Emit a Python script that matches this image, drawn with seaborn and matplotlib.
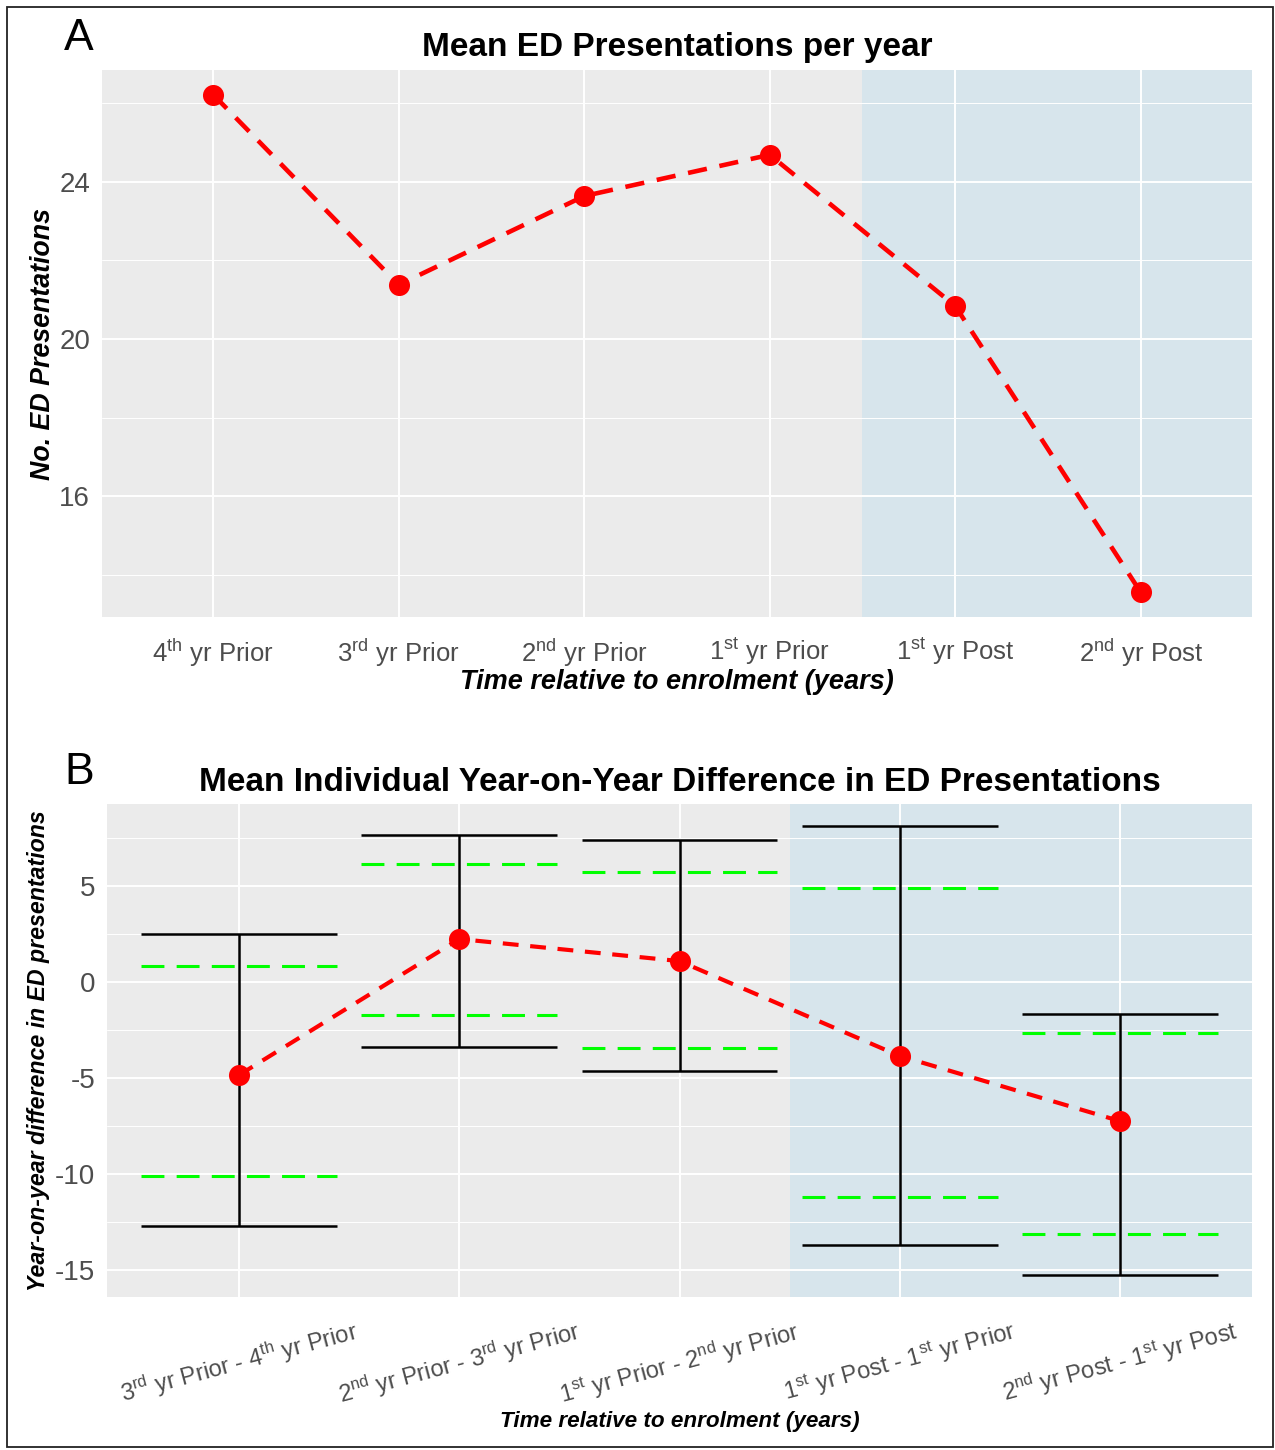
import matplotlib
matplotlib.use("Agg")
import matplotlib.pyplot as plt
import seaborn as sns
import pandas as pd
import numpy as np
from matplotlib.patches import Rectangle

# ---------------- data ----------------
a_labels = [r"4$^{\mathrm{th}}$ yr Prior", r"3$^{\mathrm{rd}}$ yr Prior", r"2$^{\mathrm{nd}}$ yr Prior",
            r"1$^{\mathrm{st}}$ yr Prior", r"1$^{\mathrm{st}}$ yr Post", r"2$^{\mathrm{nd}}$ yr Post"]
a_means = [26.22, 21.38, 23.64, 24.69, 20.84, 13.55]

b_labels = [r"3$^{\mathrm{rd}}$ yr Prior - 4$^{\mathrm{th}}$ yr Prior",
            r"2$^{\mathrm{nd}}$ yr Prior - 3$^{\mathrm{rd}}$ yr Prior",
            r"1$^{\mathrm{st}}$ yr Prior - 2$^{\mathrm{nd}}$ yr Prior",
            r"1$^{\mathrm{st}}$ yr Post - 1$^{\mathrm{st}}$ yr Prior",
            r"2$^{\mathrm{nd}}$ yr Post - 1$^{\mathrm{st}}$ yr Post"]
b_means = [-4.84, 2.24, 1.09, -3.85, -7.24]
b_ci_hi = [2.5, 7.66, 7.4, 8.13, -1.67]
b_ci_lo = [-12.7, -3.39, -4.64, -13.7, -15.26]
b_inner_hi = [0.83, 6.15, 5.73, 4.9, -2.66]
b_inner_lo = [-10.1, -1.72, -3.44, -11.2, -13.1]

# ---------------- style ----------------
sns.set_theme(style="darkgrid")
plt.rcParams['font.family'] = ['Liberation Sans', 'DejaVu Sans']
plt.rcParams['mathtext.fontset'] = 'custom'
plt.rcParams['mathtext.rm'] = 'Liberation Sans'
plt.rcParams['mathtext.it'] = 'Liberation Sans:italic'
plt.rcParams['mathtext.bf'] = 'Liberation Sans:bold'

PANEL = "#EBEBEB"
SHADE = "#D7E5EC"
RED = "#FF0000"
GREEN = "#00FF00"
TICKC = "#4D4D4D"

fig = plt.figure(figsize=(12.75, 14.5), dpi=100)
W, H = 1275, 1450

def ax_at(l, t, r, b):
    return fig.add_axes([l / W, 1 - b / H, (r - l) / W, (b - t) / H])

def style_ax(ax):
    ax.set_facecolor(PANEL)
    for s in ax.spines.values():
        s.set_visible(False)
    ax.grid(which='major', color='white', linewidth=1.4)
    ax.grid(which='minor', color='white', linewidth=0.7)
    ax.set_axisbelow(True)
    ax.tick_params(which='major', length=5, width=1.1, color="#333333", colors=TICKC)
    ax.tick_params(which='minor', length=0)

# ---------------- Panel A ----------------
axA = ax_at(102, 70, 1252, 617)
style_ax(axA)
dfA = pd.DataFrame({"pos": np.arange(len(a_means)), "mean": a_means})
axA.axvspan(3.5, 5.6, color=SHADE, zorder=0.2, lw=0)
sns.lineplot(data=dfA, x="pos", y="mean", ax=axA, color=RED, lw=3.3,
             linestyle=(0, (4.2, 2.8)), zorder=3)
sns.scatterplot(data=dfA, x="pos", y="mean", ax=axA, color=RED, s=230,
                edgecolor=RED, linewidth=0, zorder=4)
axA.set_xlim(-0.6, 5.6)
axA.set_ylim(12.92, 26.85)
axA.set_yticks([16, 20, 24])
axA.set_yticks([14, 18, 22, 26], minor=True)
axA.set_xticks(range(len(a_labels)))
axA.set_xticklabels(a_labels, fontsize=18.5, color=TICKC)
axA.tick_params(axis='y', labelsize=20)
axA.tick_params(axis='x', pad=9)
axA.set_title("Mean ED Presentations per year", fontsize=24, fontweight='bold', pad=10,
              color='black')
axA.set_xlabel("Time relative to enrolment (years)", fontsize=19.5, fontweight='bold',
               fontstyle='italic', color='black')
axA.xaxis.set_label_coords(0.5, -0.095)
axA.set_ylabel("No. ED Presentations", fontsize=19.3, fontweight='bold', fontstyle='italic',
               color='black')
axA.yaxis.set_label_coords(-0.04, 0.5)

# ---------------- Panel B ----------------
axB = ax_at(107, 804, 1252, 1297)
style_ax(axB)
n = len(b_means)
pos = np.arange(n)
dfB = pd.DataFrame({"pos": pos, "mean": b_means})
axB.axvspan(2.5, 4.6, color=SHADE, zorder=0.2, lw=0)
hw = 0.445
axB.vlines(pos, b_ci_lo, b_ci_hi, color='black', lw=1.8, zorder=2)
axB.hlines(b_ci_hi, pos - hw, pos + hw, color='black', lw=1.8, zorder=2)
axB.hlines(b_ci_lo, pos - hw, pos + hw, color='black', lw=1.8, zorder=2)
axB.hlines(b_inner_hi, pos - hw, pos + hw, color=GREEN, lw=2.2, linestyles=[(0, (7.5, 4))], zorder=2)
axB.hlines(b_inner_lo, pos - hw, pos + hw, color=GREEN, lw=2.2, linestyles=[(0, (7.5, 4))], zorder=2)
sns.lineplot(data=dfB, x="pos", y="mean", ax=axB, color=RED, lw=3.0,
             linestyle=(0, (3.8, 2.8)), zorder=3)
sns.scatterplot(data=dfB, x="pos", y="mean", ax=axB, color=RED, s=230,
                edgecolor=RED, linewidth=0, zorder=4)
axB.set_xlim(-0.6, 4.6)
axB.set_ylim(-16.4, 9.27)
axB.set_yticks([-15, -10, -5, 0, 5])
axB.set_yticks([-12.5, -7.5, -2.5, 2.5, 7.5], minor=True)
axB.set_yticklabels(["-15", "-10", "-5", "0", "5"])
axB.set_xticks(pos)
axB.set_xticklabels(b_labels, fontsize=17, color=TICKC, rotation=15, ha='center')
axB.tick_params(axis='y', labelsize=20)
axB.tick_params(axis='x', pad=9)
axB.set_title("Mean Individual Year-on-Year Difference in ED Presentations", fontsize=24,
              fontweight='bold', pad=9, color='black')
axB.set_xlabel("Time relative to enrolment (years)", fontsize=16.2, fontweight='bold',
               fontstyle='italic', color='black')
axB.xaxis.set_label_coords(0.5, -0.232)
axB.set_ylabel("Year-on-year difference in ED presentations", fontsize=16.7, fontweight='bold',
               fontstyle='italic', color='black')
axB.yaxis.set_label_coords(-0.05, 0.5)

# panel letters
fig.text(64 / W, 1 - 38 / H, "A", fontsize=32, va='center', ha='left', color='black')
fig.text(64 / W, 1 - 772 / H, "B", fontsize=32, va='center', ha='left', color='black')

# figure border
fig.patches.append(Rectangle((7 / W, 3 / H), (1273 - 7) / W, (1443 - 3) / H,
                             transform=fig.transFigure, fill=False, edgecolor='#222222', lw=1.3))

fig.savefig("out.png", dpi=100)
